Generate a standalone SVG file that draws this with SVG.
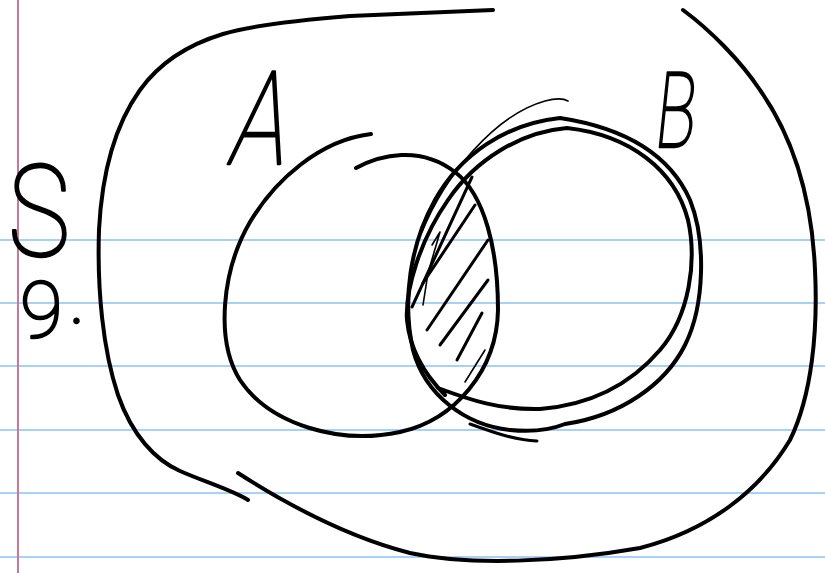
<svg xmlns="http://www.w3.org/2000/svg" width="825" height="573" viewBox="0 0 825 573">
<style>
.rule{stroke:#a6d2f7;stroke-width:2}
.margin{stroke:#c8789a;stroke-width:2}
.ink{fill:none;stroke:#000;stroke-linecap:round;stroke-linejoin:round}
.w4{stroke-width:4}
.w3{stroke-width:3}
.w2{stroke-width:1.6}
.hand{font-family:Roboto,"Liberation Sans",sans-serif;font-weight:100;fill:#000;stroke:#000;stroke-width:2.4;stroke-linejoin:round}
</style>
<rect width="825" height="573" fill="#fff"/>
<g id="paper">
<line class="rule" x1="0" y1="240" x2="825" y2="240"/>
<line class="rule" x1="0" y1="303" x2="825" y2="303"/>
<line class="rule" x1="0" y1="366" x2="825" y2="366"/>
<line class="rule" x1="0" y1="430" x2="825" y2="430"/>
<line class="rule" x1="0" y1="493" x2="825" y2="493"/>
<line class="rule" x1="0" y1="557" x2="825" y2="557"/>
<line class="margin" x1="18" y1="0" x2="18" y2="573"/>
</g>
<g id="universe">
<path class="ink w4" d="M493,10 C440,12 390,14 350,16 C300,20 250,26 223,34 C190,44 160,62 140,90 C115,125 102,170 99,230 C97,290 103,350 118,395 C132,435 155,460 180,471 C205,482 232,490 248,500"/>
<path class="ink w4" d="M238,473 C280,500 340,535 410,553 C470,566 560,562 640,548 C710,530 760,490 790,440 C812,395 818,330 815,270 C812,200 795,140 760,90 C740,60 710,30 683,10"/>
</g>
<g id="set-a">
<path class="ink w4" d="M356,168 C380,155 420,145 455,172 C485,195 498,250 498,310 C497,370 455,420 400,432 C340,445 270,425 240,380 C215,340 222,270 250,222 C275,180 320,140 371,134"/>
</g>
<g id="set-b">
<path class="ink w4" d="M565,424 C620,416 665,385 685,345 C705,305 706,240 690,200 C670,155 625,128 560,118 C505,124 460,155 435,200 C410,245 402,300 413,350 C425,395 465,425 510,430 C530,432 550,430 565,424"/>
<path class="ink w3" d="M470,424 C495,433 515,440 537,441"/>
<path class="ink w4" d="M438,388 C470,400 500,410 540,409 C590,405 630,385 660,350 C690,315 697,260 688,220 C675,170 630,135 567,128 C520,132 475,160 448,200 C420,240 405,290 407,320 C410,350 425,375 445,395"/>
<path class="ink w2" d="M422,232 C445,175 495,115 545,101 C556,98 563,98 568,101"/>
</g>
<g id="hatch">
<path class="ink w3" d="M412,307 L472,177"/>
<path class="ink w2" d="M423,305 L428,273 L440,232 L432,245"/>
<path class="ink w3" d="M423,283 L475,205"/>
<path class="ink w3" d="M427,330 L488,240"/>
<path class="ink w3" d="M440,345 L488,280"/>
<path class="ink w3" d="M457,360 L482,313"/>
<path class="ink w2" d="M465,382 L485,350"/>
</g>
<g id="labels">
<text class="hand" transform="translate(226,164) skewX(-12)" x="0" y="0" font-size="130" textLength="56" lengthAdjust="spacingAndGlyphs">A</text>
<text class="hand" transform="translate(653,147) skewX(-6)" x="0" y="0" font-size="105" textLength="40" lengthAdjust="spacingAndGlyphs">B</text>
<text class="hand" id="question"><tspan x="8" y="256" font-size="128" textLength="62" lengthAdjust="spacingAndGlyphs">S</tspan><tspan x="20" y="337" font-size="78">9</tspan><tspan dx="6" dy="-14" font-size="78">.</tspan></text>
</g>
</svg>
